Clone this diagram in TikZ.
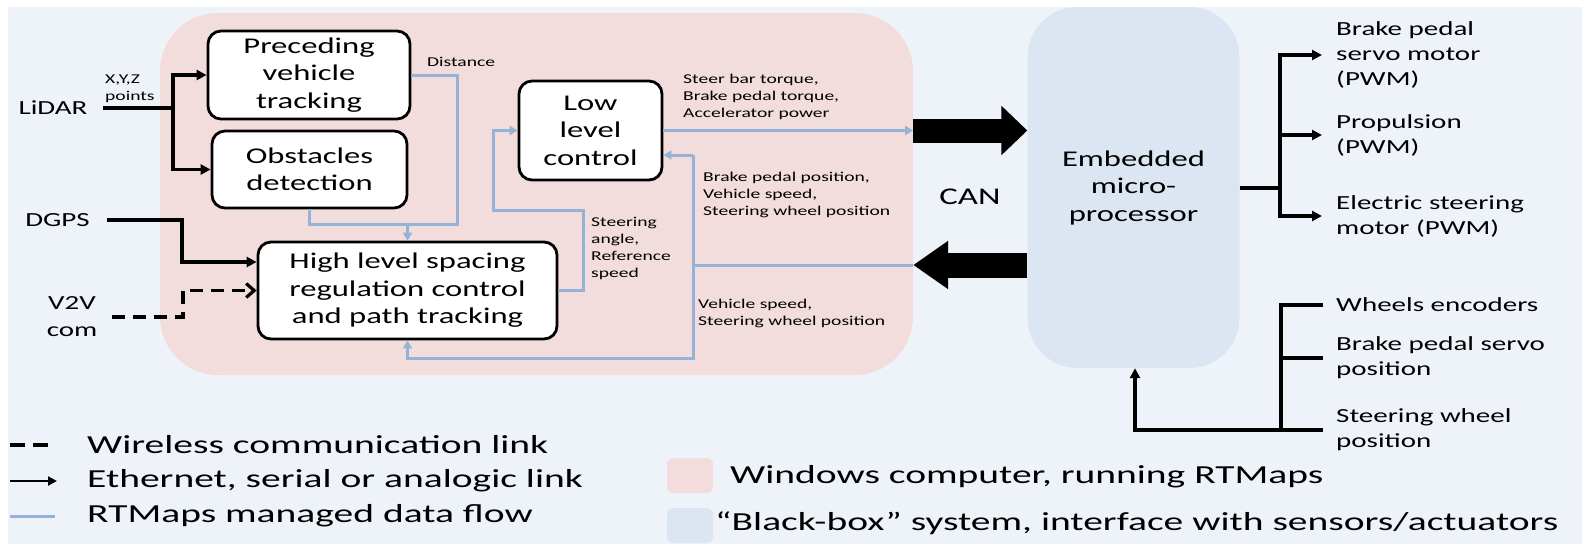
\documentclass[tikz,border=0pt]{standalone}
\usepackage{fontspec}
\setmainfont{Carlito}[FakeStretch=1.45]
\newfontfamily\legfont{Carlito}[FakeStretch=1.52]
\usetikzlibrary{arrows.meta}
\definecolor{bgc}{RGB}{238,243,250}
\definecolor{pinkc}{RGB}{243,221,220}
\definecolor{bluebox}{RGB}{220,230,242}
\definecolor{blueline}{RGB}{149,179,215}
\begin{document}
\begin{tikzpicture}[x=1pt,y=-1pt,
  box/.style={draw=black, line width=2.8pt, fill=white, rounded corners=13pt, align=center, inner sep=0pt, font=\fontsize{22.5}{27.5}\selectfont},
  region/.style={inner sep=0pt, draw=none},
  inp/.style={font=\fontsize{20}{27}\selectfont, align=center, inner sep=0pt},
  outt/.style={font=\fontsize{20}{25}\selectfont, align=left, inner sep=0pt, anchor=west},
  lbl/.style={font=\fontsize{13.5}{17}\selectfont, align=left, inner sep=0pt, anchor=west},
  lgt/.style={font=\legfont\fontsize{26}{30}\selectfont, inner sep=0pt, anchor=west},
  blk/.style={draw=black, line width=3.2pt},
  blkarr/.style={blk, -{Triangle[length=10pt,width=10pt]}},
  bl/.style={draw=blueline, line width=3pt},
  blarr/.style={bl, -{Triangle[length=8pt,width=9pt]}},
  bigR/.style={draw=black, line width=24pt, -{Triangle[length=26pt,width=48pt]}},
  bigL/.style={draw=black, line width=25pt, -{Triangle[length=35pt,width=46pt]}}
]
\useasboundingbox (0,0) rectangle (1582,544);
\fill[white] (0,0) rectangle (1582,544);
\fill[bgc] (8,7) rectangle (1582,544);

% regions
\node[region, fill=pinkc, rounded corners=58pt, minimum width=753pt, minimum height=362pt] (pc) at (536.5,194) {};
\node[region, fill=bluebox, rounded corners=50pt, minimum width=212pt, minimum height=361pt, font=\fontsize{22.5}{27.5}\selectfont, align=center] (emb) at (1133.5,187.5) {Embedded\\micro-\\processor};

% boxes
\node[box, minimum width=202pt, minimum height=88pt] (prec) at (309,75) {Preceding\\vehicle\\tracking};
\node[box, minimum width=195pt, minimum height=77pt] (obst) at (309.5,169.5) {Obstacles\\detection};
\node[box, minimum width=299pt, minimum height=97pt] (high) at (407.5,290.5) {High level spacing\\regulation control\\and path tracking};
\node[box, minimum width=143pt, minimum height=99pt] (low) at (590.5,130.5) {Low\\level\\control};

% inputs
\node[inp] (lidar) at (53,108) {LiDAR};
\node[inp] (dgps) at (57.5,220) {DGPS};
\node[inp] (v2v) at (72,317) {V2V\\com};
\node[lbl] (xyz) at (105,88.5) {X,Y,Z\\points};

% labels
\node[lbl] (dist) at (427,62) {Distance};
\node[lbl] (steer) at (683,96.5) {Steer bar torque,\\Brake pedal torque,\\Accelerator power};
\node[lbl] (brk) at (703,195) {Brake pedal position,\\Vehicle speed,\\Steering wheel position};
\node[lbl] (stang) at (591,248.5) {Steering\\angle,\\Reference\\speed};
\node[lbl] (vsp) at (698,313) {Vehicle speed,\\Steering wheel position};
\node[inp, font=\fontsize{24}{28}\selectfont] (can) at (970,197) {CAN};

% outputs / sensors
\node[outt] (out1) at (1336,55) {Brake pedal\\servo motor\\(PWM)};
\node[outt] (out2) at (1336,135) {Propulsion\\(PWM)};
\node[outt] (out3) at (1336,216) {Electric steering\\motor (PWM)};
\node[outt] (in1) at (1336,305) {Wheels encoders};
\node[outt] (in2) at (1336,358) {Brake pedal servo\\position};
\node[outt] (in3) at (1336,430) {Steering wheel\\position};

% black input links
\coordinate (lsplit) at (173,108);
\draw[blk] ([xshift=15pt]lidar.east) -- (lsplit);
\draw[blkarr] (lsplit) |- (prec.west);
\draw[blkarr] (lsplit) |- (obst.west);
\coordinate (dgk) at (182,262);
\draw[blkarr] ([xshift=17pt]dgps.east) -| (dgk) -- ([yshift=28.5pt]high.west);
\coordinate (v2vk) at (183,290.5);
\draw[blk, dash pattern=on 13pt off 8pt, -{Straight Barb[length=8pt,width=14pt]}] ([xshift=14.5pt]v2v.east) -| (v2vk) -- (high.west);

% blue data flow
\coordinate (bj) at (407.5,224);
\coordinate (pk) at (457,224);
\draw[bl] (prec.east) -| (pk) -- (bj);
\draw[bl] (obst.south) |- (bj);
\draw[blarr] (bj) -- (high.north);
\coordinate (hk1) at (583,210);
\coordinate (hk2) at (493,210);
\draw[blarr] (high.east) -| (hk1) -- (hk2) |- (low.west);
\draw[blarr] (low.east) -- (pc.east |- low.east);
\coordinate (rk) at (693,265);
\coordinate (rt) at (693,155);
\coordinate (rb) at (693,358);
\draw[bl] (pc.east |- rk) -- (rk);
\draw[blarr] (rt) -- (low.east |- rt);
\draw[blarr] (rt) -- (rb) -| (high.south);

% CAN big arrows
\draw[bigR] (pc.east |- low.east) -- (emb.west |- low.east);
\draw[bigL] (emb.west |- rk) -- (pc.east |- rk);

% embedded outputs
\coordinate (ov) at (1280,188);
\draw[blk] (emb.east |- ov) -- (ov);
\draw[blkarr] (ov) |- ([xshift=-14pt]out1.west);
\draw[blkarr] (ov) |- ([xshift=-14pt]out2.west);
\draw[blkarr] (ov) |- ([xshift=-14pt]out3.west);

% sensor inputs
\coordinate (iv) at (1281,430);
\coordinate (ib) at (1135,430);
\draw[blk] ([xshift=-13pt]in1.west) -| (iv);
\draw[blk] ([xshift=-13pt]in2.west) -- (in2.west -| iv);
\draw[blk] ([xshift=-13pt]in3.west) -- (in3.west -| iv);
\draw[blkarr, line width=3.8pt] (iv) -- (ib) -- (ib |- emb.south);

% legend
\node[lgt] (l1) at (87,445) {Wireless communication link};
\node[lgt] (l2) at (87,481) {Ethernet, serial or analogic link};
\node[lgt] (l3) at (87,516) {RTMaps managed data flow};
\draw[blk, dash pattern=on 15pt off 8pt] ([xshift=-77pt]l1.west) -- ([xshift=-38pt]l1.west);
\draw[blk, line width=2.6pt, -{Triangle[length=9pt,width=9pt]}] ([xshift=-77pt]l2.west) -- ([xshift=-30pt]l2.west);
\draw[bl, line width=3pt] ([xshift=-77pt]l3.west) -- ([xshift=-32pt]l3.west);
\node[region, fill=pinkc, rounded corners=6pt, minimum width=46pt, minimum height=35pt] (sqp) at (690,475.5) {};
\node[region, fill=bluebox, rounded corners=6pt, minimum width=46pt, minimum height=35pt] (sqb) at (690,525.5) {};
\node[lgt] (lw) at (730,477) {Windows computer, running RTMaps};
\node[lgt] (lb) at (715,523) {“Black-box” system, interface with sensors/actuators};
\end{tikzpicture}
\end{document}
